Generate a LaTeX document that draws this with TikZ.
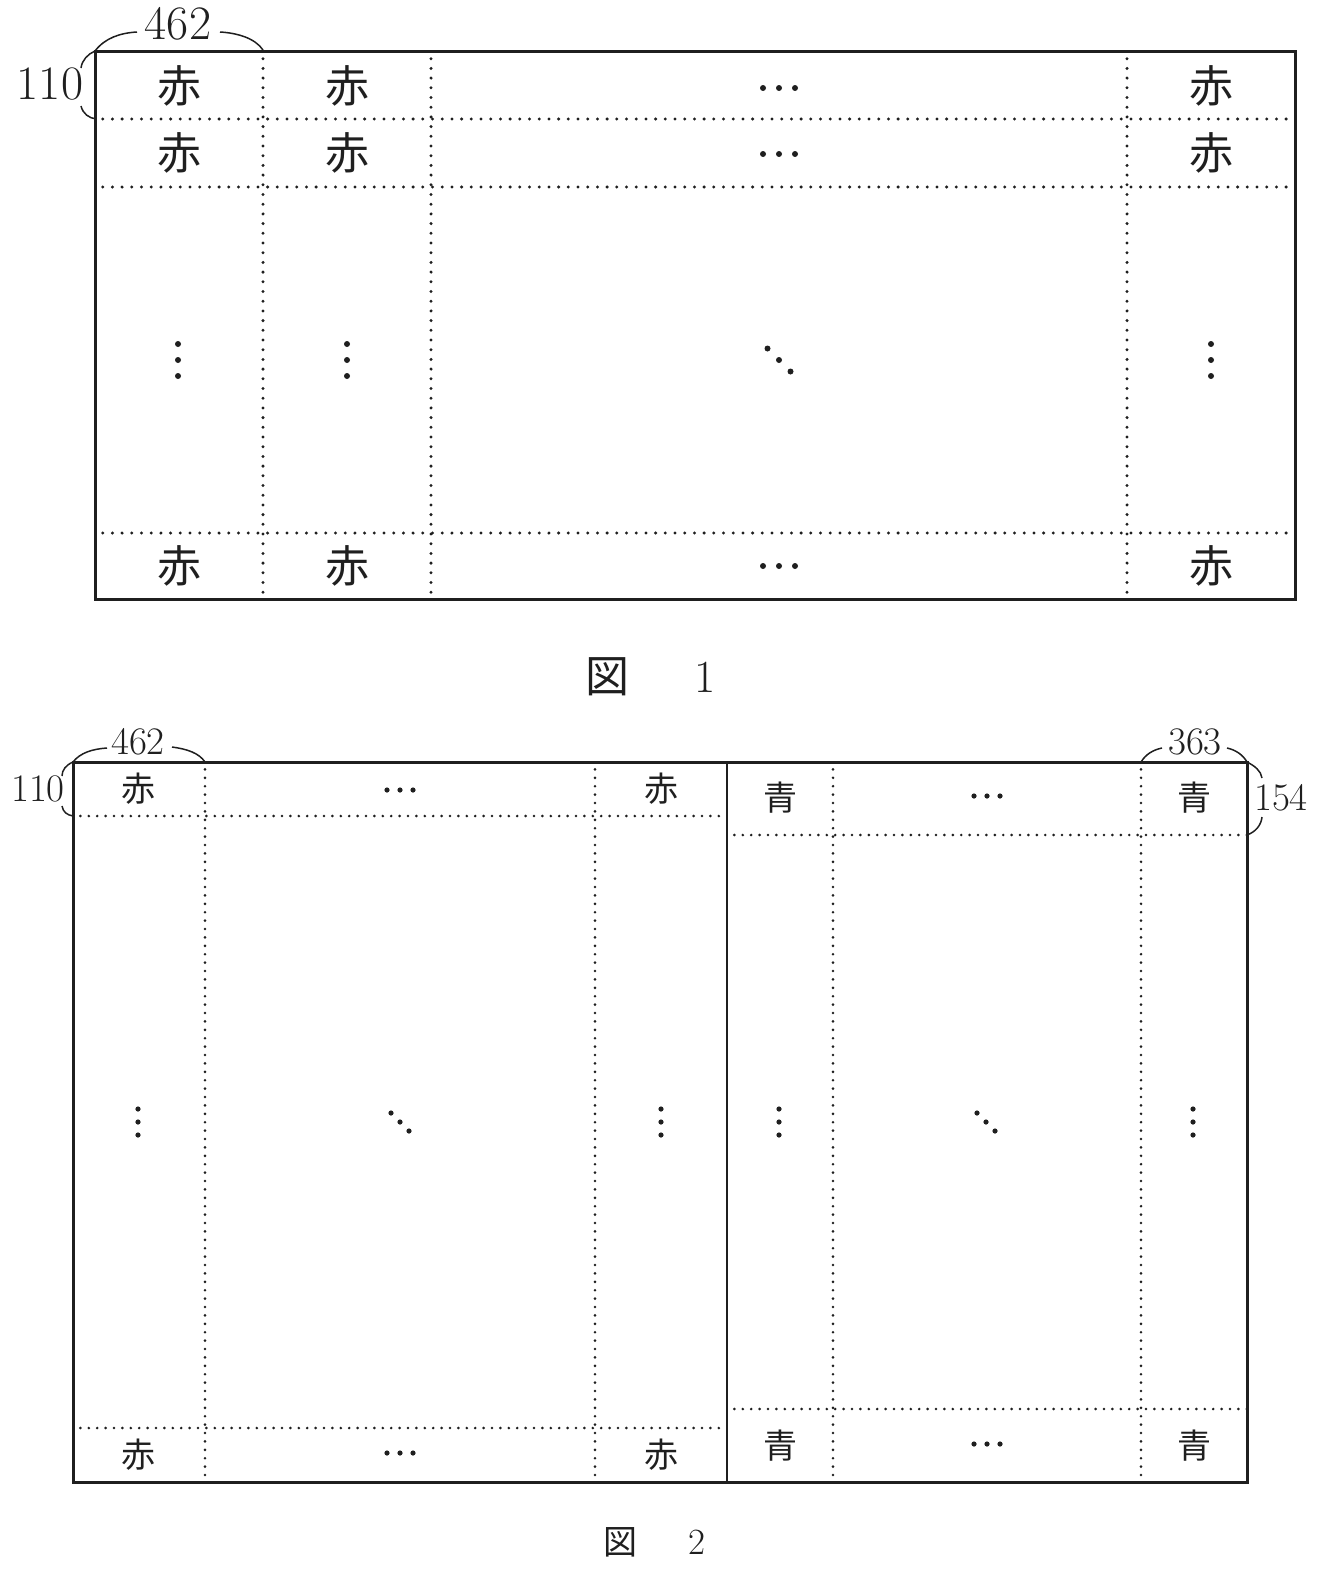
\documentclass[tikz,border=0pt]{standalone}
\usepackage{fontspec}
\newfontfamily\jp{Noto Sans CJK JP}
\begin{document}
\begin{tikzpicture}[x=1pt,y=-1pt,
  ink/.style={color=black!88},
  frame/.style={ink,line width=3pt},
  divider/.style={ink,line width=1.8pt},
  dotsA/.style={ink,line width=3.3pt,line cap=round,dash pattern=on 0pt off 9.7pt,dash phase=2pt},
  dotsB/.style={ink,line width=2.9pt,line cap=round,dash pattern=on 0pt off 8.4pt,dash phase=1pt},
  bracearm/.style={ink,line width=1.5pt},
  cjkA/.style={ink,inner sep=0pt,font=\jp\fontsize{44}{44}\selectfont},
  cjkB/.style={ink,inner sep=0pt,font=\jp\fontsize{34}{34}\selectfont},
  numA/.style={ink,inner sep=0pt,font=\fontsize{48}{48}\selectfont},
  numB/.style={ink,inner sep=0pt,font=\fontsize{39}{39}\selectfont},
  capA/.style={ink,inner sep=0pt,font=\fontsize{46}{46}\selectfont},
  capB/.style={ink,inner sep=0pt,font=\fontsize{37}{37}\selectfont}
]
\useasboundingbox (0,0) rectangle (1323,1582);

% ================= Figure 1 =================
\coordinate (f1tl) at (95,51);
\coordinate (f1br) at (1295,599);
\foreach \x in {263,431,1127}{
  \draw[dotsA] (\x,51) -- (\x,599);
}
\foreach \y in {119,187,533}{
  \draw[dotsA] (95,\y) -- (1295,\y);
}
\draw[frame] (f1tl) rectangle (f1br);

% texts
\foreach \x/\c in {179/1,347/2,1211/3}{
  \node[cjkA] (f1r1c\c) at (\x,86) {赤};
  \node[cjkA] (f1r2c\c) at (\x,153) {赤};
  \node[cjkA] (f1r3c\c) at (\x,566) {赤};
}
% horizontal ellipses
\foreach \y in {88,154,566}{
  \foreach \dx in {-16,0,16}{ \fill[ink] (779+\dx,\y) circle (3pt); }
}
% vertical ellipses
\foreach \x in {178,347,1211}{
  \foreach \dy in {-16,0,16}{ \fill[ink] (\x,360+\dy) circle (3pt); }
}
% diagonal
\foreach \d in {-11.5,0,11.5}{ \fill[ink] (779+\d,360+\d) circle (3pt); }

% labels
\node[numA] (l462a) at (178,24) {462};
\node[numA] (l110a) at (50,84) {110};
\draw[bracearm] (f1tl) .. controls (105,38) and (120,33) .. (137,32);
\draw[bracearm] (220,32) .. controls (237,33) and (255,38) .. (263,50);
\draw[bracearm] (f1tl) .. controls (88,54) and (82,60) .. (81,68);
\draw[bracearm] (81,106) .. controls (83,114) and (89,118) .. (96,119);

% caption
\node[cjkA] (cap1a) at (607,677) {図};
\node[capA] (cap1b) at (705,677) {1};

% ================= Figure 2 =================
\coordinate (f2tl) at (73,762);
\coordinate (f2br) at (1247,1482);
% left part
\foreach \x in {205,595}{
  \draw[dotsB] (\x,762) -- (\x,1482);
}
\foreach \y in {816,1428}{
  \draw[dotsB] (73,\y) -- (727,\y);
}
% right part
\foreach \x in {833,1141}{
  \draw[dotsB] (\x,762) -- (\x,1482);
}
\foreach \y in {835,1409}{
  \draw[dotsB] (727,\y) -- (1247,\y);
}
\draw[divider] (727,762) -- (727,1482);
\draw[frame] (f2tl) rectangle (f2br);

% texts
\node[cjkB] (f2a1) at (138,789) {赤};
\node[cjkB] (f2a2) at (661,789) {赤};
\node[cjkB] (f2a3) at (138,1455) {赤};
\node[cjkB] (f2a4) at (661,1455) {赤};
\node[cjkB] (f2b1) at (780,798) {青};
\node[cjkB] (f2b2) at (1194,798) {青};
\node[cjkB] (f2b3) at (780,1446) {青};
\node[cjkB] (f2b4) at (1194,1446) {青};

% horizontal ellipses
\foreach \x/\y in {400/790,400/1453,987/796,987/1444}{
  \foreach \dx in {-13,0,13}{ \fill[ink] (\x+\dx,\y) circle (2.6pt); }
}
% vertical ellipses
\foreach \x in {138,661,779,1193}{
  \foreach \dy in {-13,0,13}{ \fill[ink] (\x,1122+\dy) circle (2.6pt); }
}
% diagonals
\foreach \cx in {400,986}{
  \foreach \d in {-9,0,9}{ \fill[ink] (\cx+\d,1122+\d) circle (2.6pt); }
}

% labels
\node[numB] (l462b) at (138,742) {462};
\node[numB] (l110b) at (38,789) {110};
\node[numB] (l363) at (1195,742) {363};
\node[numB] (l154) at (1281,798) {154};
\draw[bracearm] (f2tl) .. controls (80,753) and (92,749) .. (107,748);
\draw[bracearm] (172,747) .. controls (187,749) and (199,753) .. (205,762);
\draw[bracearm] (f2tl) .. controls (66,765) and (62,770) .. (62,776);
\draw[bracearm] (62,806) .. controls (63,812) and (67,815) .. (73,816);
\draw[bracearm] (1141,762) .. controls (1146,754) and (1153,750) .. (1162,748);
\draw[bracearm] (1227,748) .. controls (1236,750) and (1243,755) .. (1247,762);
\draw[bracearm] (1247,762) .. controls (1255,766) and (1261,771) .. (1262,778);
\draw[bracearm] (1262,817) .. controls (1261,826) and (1255,832) .. (1247,835);

% caption
\node[cjkB] (cap2a) at (620,1542) {図};
\node[capB] (cap2b) at (697,1542) {2};
\end{tikzpicture}
\end{document}
